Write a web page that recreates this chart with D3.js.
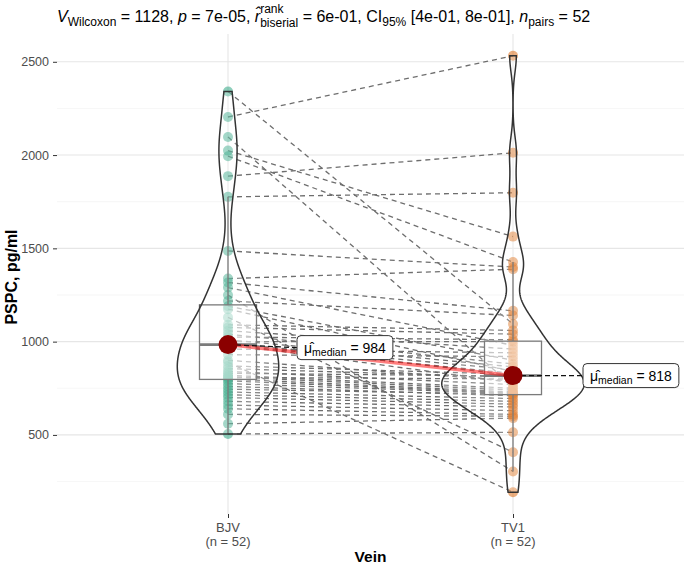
<!DOCTYPE html>
<html><head><meta charset="utf-8">
<script src="https://cdn.jsdelivr.net/npm/d3@7"></script>
<style>
body{margin:0;background:#fff}
text{font-family:"Liberation Sans",Arial,sans-serif}
</style>
</head><body>
<svg id="c" width="685" height="565"></svg>
<script>
// ---------------- data ----------------
const categories = ["BJV", "TV1"];
const countLabels = ["(n = 52)", "(n = 52)"];
const xTitle = "Vein";
const yTitle = "PSPC, pg/ml";
// paired observations (same index = same subject)
const bjv = [2341,2204,2097,2024,1994,1887,1776,1486,1338,1317,1290,1250,1218,1190,1174,1130,1090,1076,1058,1040,1025,1010,1000,995,990,986,982,960,930,900,889,870,855,840,830,820,812,808,800,790,775,760,745,730,715,700,680,660,640,610,560,505];
const tv1 = [1094,2532,760,1563,1427,2012,1798,1400,1388,1165,980,304,1140,900,840,407,1060,1040,960,880,1010,865,1000,820,850,780,830,940,920,790,193,825,810,770,816,750,740,800,730,725,722,710,718,695,680,665,650,630,610,600,590,514];
const yTicks = [500, 1000, 1500, 2000, 2500];
const yMinorTicks = [250, 750, 1250, 1750, 2250];
const groupColors = ["#1B9E77", "#D95F02"];
const titlePieces = [
  {t:"V", it:true}, {t:"Wilcoxon", sub:true}, {t:" = 1128, "},
  {t:"p", it:true}, {t:" = 7e-05, "},
  {t:"r\u0302", it:true}, {stack:["rank","biserial"]}, {t:" = 6e-01, CI"},
  {t:"95%", sub:true}, {t:" [4e-01, 8e-01], "},
  {t:"n", it:true}, {t:"pairs", sub:true}, {t:" = 52"}
];

// ---------------- setup ----------------
const svg = d3.select("#c");
const groups = [bjv, tv1];
const allVals = bjv.concat(tv1);
const [mn, mx] = d3.extent(allVals);
const pad = (mx - mn) * 0.05;
const x = d3.scalePoint().domain(categories).range([57, 684]).padding(0.6);
const y = d3.scaleLinear().domain([mn - pad, mx + pad]).range([514, 34]);
const step = x.step();

// grid
const grid = svg.append("g");
grid.selectAll(".mi").data(yMinorTicks).join("line")
  .attr("x1", 57).attr("x2", 684).attr("y1", d => y(d)).attr("y2", d => y(d))
  .attr("stroke", "#f0f0f0").attr("stroke-width", 0.6);
grid.selectAll(".ma").data(yTicks).join("line")
  .attr("x1", 57).attr("x2", 684).attr("y1", d => y(d)).attr("y2", d => y(d))
  .attr("stroke", "#e6e6e6").attr("stroke-width", 1.1);
grid.selectAll(".mx").data(categories).join("line")
  .attr("x1", d => x(d)).attr("x2", d => x(d)).attr("y1", 34).attr("y2", 514)
  .attr("stroke", "#e6e6e6").attr("stroke-width", 1.1);

// axes
const yAxis = svg.append("g").attr("transform", "translate(57,0)")
  .call(d3.axisLeft(y).tickValues(yTicks).tickSize(4).tickPadding(4).tickFormat(d3.format("d")));
yAxis.select(".domain").remove();
yAxis.selectAll("line").attr("stroke", "#333");
yAxis.selectAll("text").attr("fill", "#4d4d4d").style("font-size", "12.5px").style("font-family", '"Liberation Sans",Arial,sans-serif');

const xAxis = svg.append("g").attr("transform", "translate(0,514)")
  .call(d3.axisBottom(x).tickSize(4).tickFormat(() => ""));
xAxis.select(".domain").remove();
xAxis.selectAll("line").attr("stroke", "#333");
categories.forEach((c, i) => {
  svg.append("text").attr("x", x(c)).attr("y", 532).attr("text-anchor", "middle")
    .attr("fill", "#4d4d4d").style("font-size", "13px").text(c);
  svg.append("text").attr("x", x(c)).attr("y", 546).attr("text-anchor", "middle")
    .attr("fill", "#4d4d4d").style("font-size", "13px").text(countLabels[i]);
});
svg.append("text").attr("x", (57 + 684) / 2).attr("y", 562).attr("text-anchor", "middle")
  .style("font-size", "15.5px").style("font-weight", "bold").text(xTitle);
svg.append("text").attr("transform", `translate(17,277) rotate(-90)`)
  .attr("text-anchor", "middle").style("font-size", "16px").style("font-weight", "bold").text(yTitle);

// paired dashed paths
const paths = svg.append("g");
bjv.forEach((v, i) => {
  paths.append("line")
    .attr("x1", x(categories[0])).attr("y1", y(v))
    .attr("x2", x(categories[1])).attr("y2", y(tv1[i]))
    .attr("stroke", "#6e6e6e").attr("stroke-width", 1.3).attr("stroke-dasharray", "5,4");
});

// points
groups.forEach((vals, gi) => {
  svg.append("g").selectAll("circle").data(vals).join("circle")
    .attr("cx", x(categories[gi])).attr("cy", d => y(d)).attr("r", 5)
    .attr("fill", groupColors[gi]).attr("fill-opacity", 0.5);
});

// boxplots
groups.forEach((vals, gi) => {
  const s = vals.slice().sort(d3.ascending);
  const q1 = d3.quantile(s, 0.25), q2 = d3.quantile(s, 0.5), q3 = d3.quantile(s, 0.75);
  const iqr = q3 - q1;
  const hi = d3.max(s.filter(v => v <= q3 + 1.5 * iqr));
  const lo = d3.min(s.filter(v => v >= q1 - 1.5 * iqr));
  const cx = x(categories[gi]), hw = step * 0.1;
  const g = svg.append("g").attr("stroke", "#5a5a5a");
  g.append("line").attr("x1", cx).attr("x2", cx).attr("y1", y(q3)).attr("y2", y(hi)).attr("stroke-width", 1.3);
  g.append("line").attr("x1", cx).attr("x2", cx).attr("y1", y(q1)).attr("y2", y(lo)).attr("stroke-width", 1.3);
  g.append("rect").attr("x", cx - hw).attr("width", hw * 2).attr("y", y(q3)).attr("height", y(q1) - y(q3))
    .attr("fill", "#fff").attr("fill-opacity", 0.5).attr("stroke-width", 1.3);
  g.append("line").attr("x1", cx - hw).attr("x2", cx + hw).attr("y1", y(q2)).attr("y2", y(q2)).attr("stroke-width", 2.6);
});

// violins (gaussian KDE, bw.nrd0, scale = "area")
function bwNrd0(v) {
  const s = v.slice().sort(d3.ascending);
  const sd = d3.deviation(s);
  const iqr = d3.quantile(s, 0.75) - d3.quantile(s, 0.25);
  return 0.9 * Math.min(sd, iqr / 1.34) * Math.pow(s.length, -0.2);
}
const dens = groups.map(vals => {
  const bw = bwNrd0(vals);
  const [a, b] = d3.extent(vals);
  const n = 512;
  return d3.range(n).map(k => {
    const t = a + (b - a) * k / (n - 1);
    let sum = 0;
    vals.forEach(v => { const z = (t - v) / bw; sum += Math.exp(-0.5 * z * z); });
    return [t, sum / (vals.length * bw * Math.sqrt(2 * Math.PI))];
  });
});
const maxD = d3.max(dens, d => d3.max(d, e => e[1]));
dens.forEach((d, gi) => {
  const cx = x(categories[gi]);
  const w = step * 0.25;
  const area = d3.area().y(e => y(e[0]))
    .x0(e => cx - e[1] / maxD * w).x1(e => cx + e[1] / maxD * w).curve(d3.curveLinear);
  svg.append("path").datum(d).attr("d", area)
    .attr("fill", "#fff").attr("fill-opacity", 0.2)
    .attr("stroke", "#333").attr("stroke-width", 1.5);
});

// centrality path + points
const meds = groups.map(v => d3.median(v));
svg.append("line")
  .attr("x1", x(categories[0])).attr("y1", y(meds[0]))
  .attr("x2", x(categories[1])).attr("y2", y(meds[1]))
  .attr("stroke", "red").attr("stroke-opacity", 0.5).attr("stroke-width", 3.5);

// labels
const labelOffsets = [[69, 3], [70, 0]];
meds.forEach((m, gi) => {
  const cx = x(categories[gi]), cy = y(m);
  const lx = cx + labelOffsets[gi][0], ly = cy + labelOffsets[gi][1];
  const g = svg.append("g");
  g.append("line").attr("x1", cx).attr("y1", cy).attr("x2", lx).attr("y2", ly)
    .attr("stroke", "#111").attr("stroke-width", 1.3).attr("stroke-dasharray", "5,3");
  const rect = g.append("rect");
  const t = g.append("text").attr("x", lx + 7).attr("y", ly + 5).style("font-size", "14px").style("white-space", "pre");
  t.append("tspan").text("\u03BC\u0302");
  t.append("tspan").attr("dy", 3).style("font-size", "10.5px").text("median");
  t.append("tspan").attr("dy", -3).text(" = " + Math.round(m));
  const w = t.node().getComputedTextLength();
  rect.attr("x", lx).attr("y", ly - 12).attr("width", w + 14).attr("height", 24)
    .attr("rx", 4).attr("fill", "#fff").attr("stroke", "#333").attr("stroke-width", 1);
});

meds.forEach((m, gi) => {
  svg.append("circle").attr("cx", x(categories[gi])).attr("cy", y(m)).attr("r", 9.5).attr("fill", "#8B0000");
});

// title
(function () {
  const g = svg.append("g");
  const base = 16, subS = 12;
  let px = 57; const y0 = 22;
  titlePieces.forEach(p => {
    if (p.stack) {
      const a = g.append("text").attr("x", px).attr("y", y0 - 9).style("font-size", subS + "px").text(p.stack[0]);
      const b = g.append("text").attr("x", px).attr("y", y0 + 5).style("font-size", subS + "px").text(p.stack[1]);
      px += Math.max(a.node().getComputedTextLength(), b.node().getComputedTextLength());
    } else {
      const sz = p.sub ? subS : base;
      const t = g.append("text").attr("x", px).attr("y", y0 + (p.sub ? 4 : 0))
        .style("font-size", sz + "px").style("white-space", "pre")
        .style("font-style", p.it ? "italic" : null).text(p.t);
      px += t.node().getComputedTextLength();
    }
  });
})();
</script>
</body></html>
